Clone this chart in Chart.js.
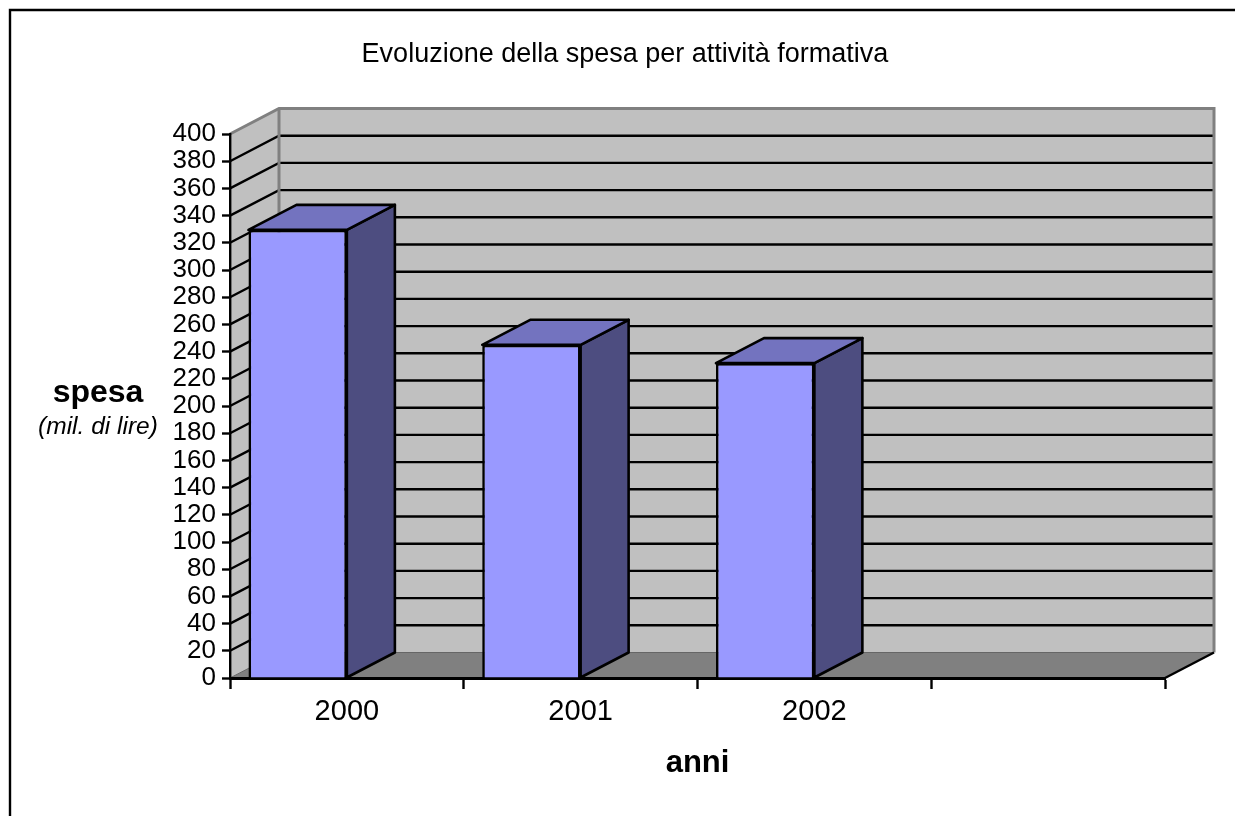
<!DOCTYPE html>
<html><head><meta charset="utf-8">
<style>html,body{margin:0;padding:0;background:#fff;overflow:hidden}canvas{display:block}</style>
<script src="https://cdn.jsdelivr.net/npm/chart.js@4"></script>
</head><body><canvas id="c" width="1235" height="816"></canvas>
<script>
const categories = ["2000","2001","2002",""];
const spesa = [329.5,245,231.5,null];
const emptySeries = [null,null,null,null];
const chartTitle = "Evoluzione della spesa per attività formativa";
const yTitle = "spesa";
const yUnit = "(mil. di lire)";
const xTitle = "anni";
const FONT = '"Liberation Sans", Arial, sans-serif';
const DX = 49, DY = 25.5, BX = 48, BY = 25;

function poly(ctx, pts, fill, stroke, lw){
  ctx.beginPath();
  pts.forEach((p,i)=> i ? ctx.lineTo(p[0],p[1]) : ctx.moveTo(p[0],p[1]));
  ctx.closePath();
  if(fill){ctx.fillStyle=fill;ctx.fill();}
  if(stroke){ctx.strokeStyle=stroke;ctx.lineWidth=lw;ctx.lineJoin='round';ctx.stroke();}
}
function line(ctx, pts, color, lw){
  ctx.beginPath();
  pts.forEach((p,i)=> i ? ctx.lineTo(p[0],p[1]) : ctx.moveTo(p[0],p[1]));
  ctx.strokeStyle=color;ctx.lineWidth=lw;ctx.stroke();
}
const box3d = {
  id:'box3d',
  beforeDraw(chart){
    const {ctx,chartArea:a,scales:{y}} = chart;
    const L=a.left,R=a.right,T=a.top,B=a.bottom;
    ctx.save();
    ctx.fillStyle='#fff';ctx.fillRect(0,0,chart.width,chart.height);
    poly(ctx,[[L,T],[L+DX,T-DY],[R+DX,T-DY],[R+DX,B-DY],[L+DX,B-DY],[L,B]],'#C0C0C0');
    poly(ctx,[[L,B],[R,B],[R+DX,B-DY],[L+DX,B-DY]],'#808080');
    line(ctx,[[L,B],[L+DX,B-DY],[R+DX,B-DY]],'#666',1);
    y.ticks.forEach(t=>{
      if(t.value===0||t.value===400) return;
      const p=y.getPixelForValue(t.value);
      line(ctx,[[L,p],[L+DX,p-DY],[R+DX,p-DY]],'#000',2.4);
    });
    line(ctx,[[L,T],[L+DX,T-DY],[R+DX,T-DY],[R+DX,B-DY]],'#808080',3);
    line(ctx,[[L+DX,T-DY],[L+DX,B-DY]],'#808080',3);
    line(ctx,[[R,B],[R+DX,B-DY]],'#000',2.4);
    ctx.restore();
  },
  beforeDatasetsDraw(chart){
    const {ctx}=chart;
    ctx.save();
    chart.getDatasetMeta(0).data.forEach((b,i)=>{
      if(spesa[i]==null) return;
      const l=b.x-b.width/2, r=b.x+b.width/2, t=b.y, bt=b.base;
      poly(ctx,[[r,t],[r+BX,t-BY],[r+BX,bt-BY],[r,bt]],'#4D4D80','#000',2.6);
      poly(ctx,[[l,t],[l+BX,t-BY],[r+BX,t-BY],[r,t]],'#7373BF','#000',2.6);
    });
    ctx.restore();
  },
  afterDraw(chart){
    const {ctx}=chart;
    ctx.save();
    line(ctx,[[10,chart.height],[10,10],[chart.width,10]],'#000',2.4);
    ctx.fillStyle='#000';ctx.textAlign='center';ctx.textBaseline='alphabetic';
    ctx.font='27px '+FONT;ctx.fillText(chartTitle,625,62);
    ctx.font='bold 32px '+FONT;ctx.fillText(yTitle,98,402);
    ctx.font='italic 24.5px '+FONT;ctx.fillText(yUnit,98,434);
    ctx.restore();
  }
};
new Chart(document.getElementById('c'),{
  type:'bar',
  data:{labels:categories,datasets:[
    {label:'spesa',data:spesa,backgroundColor:'#9999FF',borderColor:'#000',borderWidth:2.6,categoryPercentage:0.842,barPercentage:1},
    {label:'',data:emptySeries,backgroundColor:'#9999FF',categoryPercentage:0.842,barPercentage:1}
  ]},
  options:{
    responsive:false,animation:false,
    layout:{padding:{left:0,right:70,top:134,bottom:0}},
    plugins:{legend:{display:false},title:{display:false},tooltip:{enabled:false}},
    scales:{
      x:{
        afterFit(s){s.height=138;},
        grid:{drawOnChartArea:false,drawTicks:true,tickLength:11,tickWidth:2.4,tickColor:'#000',offset:true},
        border:{display:true,color:'#000',width:3},
        ticks:{color:'#000',font:{family:FONT,size:29},padding:6,maxRotation:0,autoSkip:false},
        title:{display:true,text:xTitle,color:'#000',font:{family:FONT,size:31,weight:'bold'},padding:{top:18,bottom:34}}
      },
      y:{
        min:0,max:400,
        afterFit(s){s.width=230;},
        grid:{drawOnChartArea:false,drawTicks:true,tickLength:8,tickWidth:2.4,tickColor:'#000'},
        border:{display:true,color:'#000',width:2.4},
        ticks:{stepSize:20,autoSkip:false,color:'#000',font:{family:FONT,size:26},padding:6}
      }
    }
  },
  plugins:[box3d]
});
</script></body></html>
